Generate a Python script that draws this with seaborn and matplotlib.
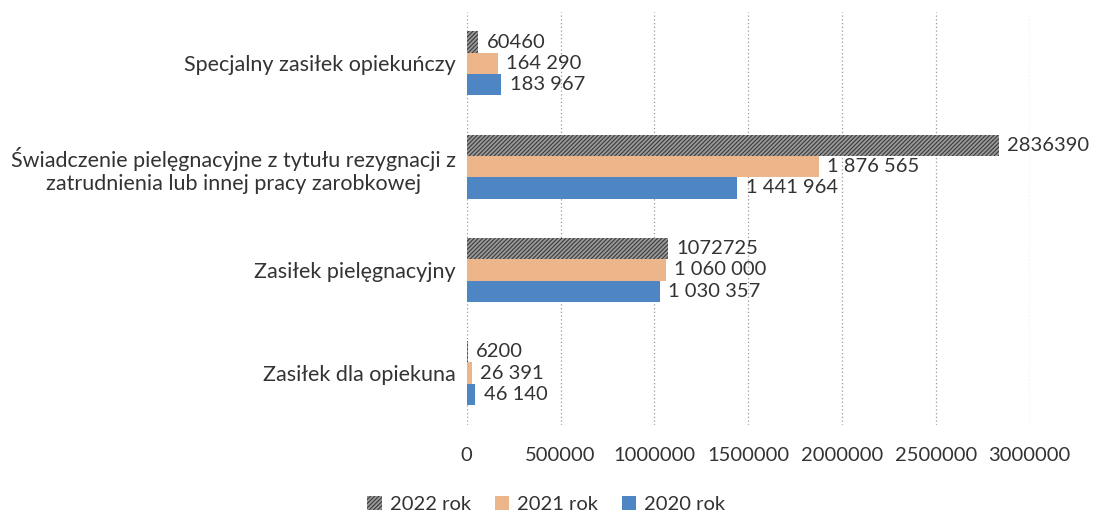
import numpy as np
import pandas as pd
import matplotlib
matplotlib.use("Agg")
import matplotlib.pyplot as plt
import seaborn as sns

kategorie = ['Specjalny zasiłek opiekuńczy',
             'Świadczenie pielęgnacyjne z tytułu rezygnacji z\nzatrudnienia lub innej pracy zarobkowej',
             'Zasiłek pielęgnacyjny',
             'Zasiłek dla opiekuna']
lata = ['2022 rok', '2021 rok', '2020 rok']
wart_2022 = [60460, 2836390, 1072725, 6200]
wart_2021 = [164290, 1876565, 1060000, 26391]
wart_2020 = [183967, 1441964, 1030357, 46140]
etykiety_2022 = ['60460', '2836390', '1072725', '6200']
etykiety_2021 = ['164 290', '1 876 565', '1 060 000', '26 391']
etykiety_2020 = ['183 967', '1 441 964', '1 030 357', '46 140']
x_ticks = [0, 500000, 1000000, 1500000, 2000000, 2500000, 3000000]

df = pd.DataFrame({
    'kategoria': kategorie * 3,
    'rok': [lata[0]] * 4 + [lata[1]] * 4 + [lata[2]] * 4,
    'wartosc': wart_2022 + wart_2021 + wart_2020,
})

sns.set_theme(style='white')
plt.rcParams['font.family'] = ['Lato', 'DejaVu Sans']
plt.rcParams['hatch.linewidth'] = 0.8

kolory = {'2022 rok': '#9a9a9a', '2021 rok': '#EDB68A', '2020 rok': '#4D86C3'}
tekst = '#333333'

fig = plt.figure(figsize=(10.93, 5.13), dpi=100)
ax = fig.add_axes([0.427, 0.172, 0.515, 0.805])
sns.barplot(data=df, y='kategoria', x='wartosc', hue='rok', hue_order=lata,
            order=kategorie, palette=kolory, orient='h', width=0.62,
            saturation=1, linewidth=0, ax=ax)

# 2022 bars hatched like the original
for p in ax.containers[0]:
    p.set_hatch('////////')
    p.set_edgecolor('#3a3a3a')
    p.set_linewidth(0)

for cont, ety in zip(ax.containers, [etykiety_2022, etykiety_2021, etykiety_2020]):
    ax.bar_label(cont, labels=ety, padding=6, fontsize=14.5, color=tekst)

ax.set_xlim(0, 3000000)
ax.set_xticks(x_ticks)
ax.set_xticklabels([str(t) for t in x_ticks], fontsize=14.5, color=tekst)
ax.tick_params(axis='x', pad=16, length=0)
ax.tick_params(axis='y', length=0, pad=8, labelsize=15.5, labelcolor=tekst)
for t in ax.get_yticklabels():
    t.set_multialignment('center')
ax.grid(axis='x', linestyle=(0, (1, 2)), color='#999999', linewidth=0.9)
ax.set_axisbelow(True)
for s in ax.spines.values():
    s.set_visible(False)
ax.set_xlabel('')
ax.set_ylabel('')

h, l = ax.get_legend_handles_labels()
ax.legend_.remove()
h[0].set_hatch('////////')
h[0].set_edgecolor('#3a3a3a')
h[0].set_linewidth(0)
fig.legend(h, l, loc='lower center', bbox_to_anchor=(0.5, -0.035), ncol=3, frameon=False,
           fontsize=14.5, handlelength=0.7, handleheight=0.7, handletextpad=0.4,
           columnspacing=1.2, labelcolor=tekst)

fig.savefig('out.png', dpi=100)
